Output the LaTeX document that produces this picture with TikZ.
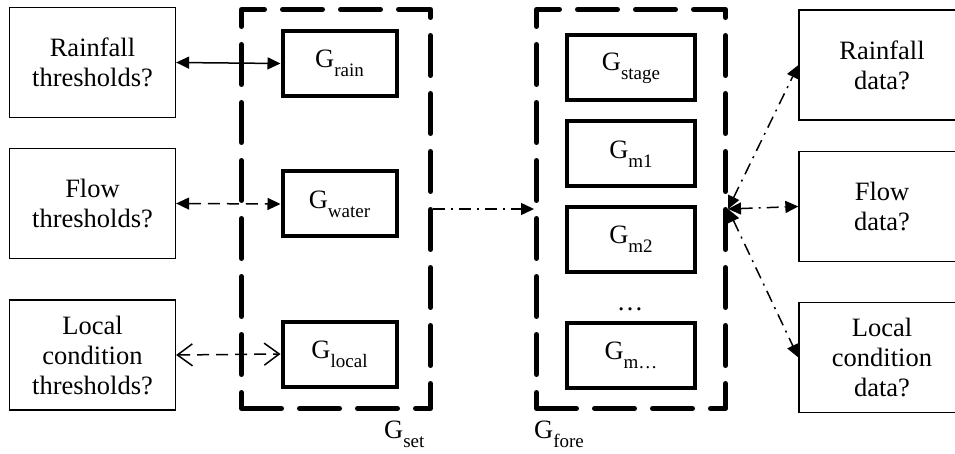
\documentclass[tikz,border=0pt]{standalone}
\usepackage{fontspec}
\setmainfont{Liberation Serif}
\usetikzlibrary{arrows.meta}

% G with a lowered, smaller subscript
\newcommand\gsym[1]{G\raisebox{-9pt}{\fontsize{19}{19}\selectfont #1}}

\tikzset{
  x=1pt, y=-1pt,
  every node/.style={font=\fontsize{26.5}{30}\selectfont, align=center, inner sep=0pt},
  askbox/.style={draw, line width=1.3pt, minimum width=166pt, minimum height=110pt},
  gbox/.style={draw, line width=4pt, minimum width=114pt, minimum height=65pt},
  fbox/.style={draw, line width=4pt, minimum width=128pt, minimum height=65pt},
  groupbox/.style={draw, line width=5pt, dash pattern=on 40pt off 18pt,
    line cap=round, line join=round, minimum width=189pt, minimum height=399pt},
  fillhead/.style={-{Triangle[length=13pt,width=12pt]}},
  link/.style={line width=1.5pt},
  dashlink/.style={line width=1.5pt, dash pattern=on 12pt off 7pt},
  dotlink/.style={line width=1.5pt, dash pattern=on 12pt off 6pt on 2pt off 6pt},
}

\begin{document}
\begin{tikzpicture}
\useasboundingbox (0,0) rectangle (955,454);

% question boxes, left column
\node[askbox] (rthr) at (92.5,62.5)  {Rainfall\\thresholds?};
\node[askbox] (fthr) at (92.5,203.5) {Flow\\thresholds?};
\node[askbox] (lthr) at (92.5,355)   {Local\\condition\\thresholds?};

% setting group
\node[groupbox] (gset) at (336,209) {};
\node[gbox] (grain)  at (339.5,63.5) {\gsym{rain}};
\node[gbox] (gwater) at (339.5,204)  {\gsym{water}};
\node[gbox] (glocal) at (339.5,354)  {\gsym{local}};
\node[anchor=base west] (lset) at (384,438) {\gsym{set}};

% forecasting group
\node[groupbox] (gfore) at (631,209) {};
\node[fbox] (gstage) at (631,68)    {\gsym{stage}};
\node[fbox] (gmone)  at (631,154)   {\gsym{m1}};
\node[fbox] (gmtwo)  at (631,239.5) {\gsym{m2}};
\node[anchor=base] (gdots) at (630,310) {\dots};
\node[fbox] (gmn)    at (631,355.5) {\gsym{m\dots}};
\node[anchor=base west] (lfore) at (534,438) {\gsym{fore}};

% question boxes, right column
\node[askbox] (rdat) at (882,65)    {Rainfall\\data?};
\node[askbox] (fdat) at (882,206.5) {Flow\\data?};
\node[askbox] (ldat) at (882,357.5) {Local\\condition\\data?};

% connectors
\draw[link, {Triangle[length=13pt,width=12pt]}-{Triangle[length=13pt,width=12pt]}]
  (rthr.east) -- (grain.west);
\draw[dashlink, {Triangle[length=13pt,width=12pt]}-{Triangle[length=13pt,width=12pt]}]
  (fthr.east) -- (gwater.west);
\draw[dashlink, {Straight Barb[length=15pt,width=22pt,line width=1.5pt]}-{Straight Barb[length=15pt,width=22pt,line width=1.5pt]}]
  (lthr.east) -- (glocal.west);

\draw[dotlink, fillhead] (gset.east) -- (gfore.west);

\coordinate (hub) at (gfore.east);
\draw[dotlink, {Triangle[length=13pt,width=12pt]}-{Triangle[length=13pt,width=12pt]}]
  (hub) -- (rdat.west);
\draw[dotlink, {Triangle[length=13pt,width=12pt]}-{Triangle[length=13pt,width=12pt]}]
  (hub) -- (fdat.west);
\draw[dotlink, {Triangle[length=13pt,width=12pt]}-{Triangle[length=13pt,width=12pt]}]
  (hub) -- (ldat.west);
\end{tikzpicture}
\end{document}
